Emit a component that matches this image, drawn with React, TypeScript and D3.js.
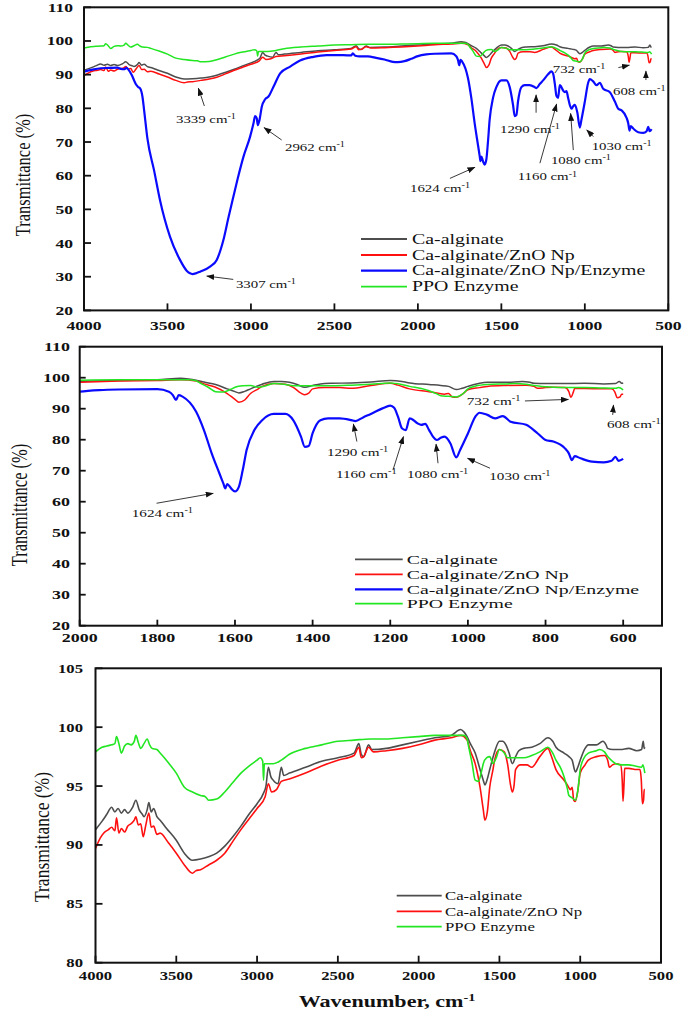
import React from 'react';
import * as d3 from 'd3';

type P = [number, number];

// ---------- DATA (wavenumber cm-1, transmittance %) ----------
const caAlginate: P[] = [
  [4000,91.3],[3960,92.0],[3930,92.6],[3900,93.2],[3880,92.8],[3860,93.1],[3840,92.7],[3820,93.0],[3800,92.7],[3770,93.2],[3750,93.8],[3730,93.0],[3710,92.6],[3700,92.4],[3680,93.0],[3670,93.6],[3655,92.8],[3640,93.1],[3620,92.4],[3600,92.1],[3560,91.4],[3500,90.4],[3450,89.3],[3400,88.7],[3350,88.8],[3300,89.0],[3250,89.3],[3200,89.9],[3150,90.7],[3100,91.6],[3050,92.6],[3000,93.5],[2960,94.4],[2945,95.0],[2930,96.6],[2915,95.8],[2900,95.5],[2870,95.2],[2850,96.6],[2835,95.9],[2800,96.1],[2700,96.6],[2600,97.1],[2500,97.4],[2400,97.8],[2370,98.6],[2355,97.7],[2340,97.5],[2310,98.5],[2290,98.1],[2200,98.2],[2100,98.5],[2000,98.8],[1900,99.1],[1800,99.3],[1740,99.8],[1720,99.6],[1700,99.2],[1680,98.6],[1650,97.8],[1620,96.4],[1600,95.5],[1590,95.1],[1575,95.6],[1560,96.4],[1530,97.9],[1500,98.8],[1480,98.8],[1460,98.5],[1440,97.8],[1420,96.9],[1400,97.5],[1380,98.0],[1350,98.2],[1300,98.3],[1250,98.6],[1200,99.1],[1170,98.8],[1150,98.3],[1100,97.8],[1070,97.5],[1050,97.2],[1030,96.2],[1015,96.6],[1000,97.2],[970,98.2],[950,98.5],[900,98.5],[860,98.8],[840,98.5],[830,98.2],[800,98.1],[750,98.1],[700,98.2],[650,98.0],[620,98.1],[610,98.8],[604,98.2],[600,98.3]
];

const caZnO: P[] = [
  [4000,89.7],[3970,90.6],[3950,91.0],[3920,91.3],[3900,91.5],[3880,91.2],[3870,92.3],[3855,91.0],[3840,91.4],[3820,91.1],[3800,91.6],[3780,91.8],[3760,92.1],[3750,92.4],[3735,91.7],[3720,91.8],[3705,90.7],[3690,91.6],[3670,92.7],[3655,91.5],[3640,91.6],[3620,90.9],[3600,91.0],[3550,90.2],[3500,89.3],[3450,88.3],[3400,87.6],[3380,87.8],[3350,87.9],[3300,88.3],[3250,88.7],[3200,89.3],[3150,90.3],[3100,91.3],[3050,92.2],[3000,93.1],[2950,94.1],[2930,95.2],[2910,94.5],[2880,94.7],[2850,95.4],[2800,95.6],[2700,96.1],[2600,96.7],[2500,97.2],[2400,97.6],[2370,98.3],[2355,97.4],[2340,97.5],[2310,98.3],[2280,97.9],[2200,98.0],[2100,98.2],[2000,98.5],[1900,98.9],[1800,99.1],[1740,99.3],[1700,98.9],[1680,98.0],[1650,96.9],[1620,94.9],[1600,93.0],[1590,92.1],[1575,92.8],[1560,94.9],[1540,96.4],[1530,97.2],[1500,98.1],[1470,97.9],[1450,96.9],[1430,95.0],[1420,94.5],[1410,95.0],[1400,96.4],[1370,96.8],[1330,96.8],[1300,96.6],[1250,97.5],[1200,98.2],[1180,97.6],[1150,96.4],[1100,95.5],[1080,95.1],[1060,94.7],[1050,94.9],[1040,93.8],[1030,93.7],[1015,94.6],[1000,96.1],[970,96.8],[950,97.2],[900,97.5],[850,97.6],[830,97.2],[820,96.6],[800,96.8],[780,96.9],[750,96.8],[740,95.5],[735,93.7],[728,95.5],[725,96.5],[700,96.5],[650,96.4],[630,96.4],[622,95.5],[615,93.5],[608,93.8],[604,94.7],[600,94.7]
];

const caZnOEnzyme: P[] = [
  [4000,90.9],[3950,91.5],[3900,91.9],[3850,92.0],[3800,92.1],[3780,91.7],[3760,91.6],[3745,92.0],[3734,91.5],[3714,89.9],[3700,88.3],[3690,87.2],[3675,86.3],[3664,85.9],[3650,83.5],[3640,79.5],[3620,71.0],[3580,61.5],[3545,52.8],[3485,41.9],[3425,35.0],[3385,31.8],[3365,31.0],[3350,30.8],[3330,31.0],[3305,31.5],[3245,33.0],[3205,35.0],[3165,40.9],[3135,47.5],[3105,53.8],[3075,60.0],[3045,65.6],[3005,71.6],[2985,75.5],[2975,77.7],[2965,77.0],[2959,75.0],[2949,76.5],[2935,80.5],[2915,82.7],[2895,83.5],[2865,86.4],[2825,90.4],[2765,92.4],[2706,94.2],[2626,95.3],[2546,95.8],[2446,95.8],[2400,95.7],[2390,96.3],[2375,95.6],[2350,95.4],[2300,95.4],[2250,95.0],[2200,94.5],[2150,93.8],[2120,93.7],[2080,94.0],[2040,94.7],[2000,95.5],[1950,96.0],[1900,96.2],[1800,96.3],[1770,95.5],[1760,94.4],[1752,92.8],[1745,94.4],[1735,93.9],[1700,89.0],[1680,83.1],[1660,75.6],[1640,69.1],[1630,65.9],[1625,64.3],[1620,65.7],[1610,64.3],[1600,63.3],[1590,64.8],[1580,70.2],[1570,76.7],[1550,83.1],[1530,86.3],[1500,88.3],[1470,88.3],[1450,86.3],[1430,81.0],[1420,77.7],[1410,78.0],[1400,82.1],[1380,86.3],[1360,86.9],[1330,86.9],[1300,86.3],[1290,86.0],[1270,87.2],[1250,88.3],[1220,90.1],[1200,91.0],[1190,90.3],[1180,87.4],[1170,83.7],[1160,83.1],[1150,86.9],[1145,86.7],[1130,85.3],[1120,84.8],[1110,85.1],[1100,83.1],[1090,81.0],[1080,79.9],[1070,80.6],[1060,81.0],[1045,78.8],[1030,74.3],[1020,76.7],[1000,82.0],[980,87.6],[970,88.7],[950,88.0],[930,86.9],[910,87.6],[890,85.8],[850,84.8],[820,82.0],[800,79.9],[780,79.4],[750,77.2],[740,75.6],[732,73.4],[725,74.7],[710,74.0],[680,72.9],[650,72.7],[630,73.2],[620,74.5],[612,73.2],[600,73.8]
];

const ppoEnzyme: P[] = [
  [4000,97.9],[3960,98.3],[3930,98.4],[3900,98.5],[3880,98.6],[3870,99.2],[3855,98.6],[3840,97.8],[3820,98.4],[3800,98.6],[3780,98.5],[3760,98.8],[3750,99.3],[3735,98.7],[3720,98.2],[3700,98.6],[3680,99.0],[3665,98.5],[3650,98.2],[3620,98.1],[3600,97.8],[3550,97.0],[3500,96.1],[3450,94.9],[3400,94.5],[3350,94.2],[3320,94.1],[3300,93.8],[3250,93.9],[3200,94.5],[3150,95.3],[3100,96.1],[3050,96.7],[3000,97.2],[2980,97.4],[2965,97.1],[2960,95.5],[2955,96.9],[2900,96.9],[2850,97.2],[2800,97.7],[2700,98.2],[2600,98.5],[2500,98.8],[2400,98.9],[2300,99.0],[2200,99.0],[2100,99.1],[2000,99.2],[1900,99.3],[1800,99.3],[1720,99.3],[1700,99.0],[1690,98.3],[1670,97.0],[1650,95.5],[1630,95.4],[1610,96.3],[1600,96.9],[1580,97.4],[1560,97.5],[1540,96.9],[1520,97.4],[1500,98.1],[1470,97.8],[1450,97.4],[1400,97.4],[1350,97.4],[1300,97.6],[1250,97.9],[1200,98.3],[1170,97.8],[1150,97.2],[1120,96.5],[1100,95.8],[1080,94.8],[1070,94.2],[1050,94.0],[1030,93.8],[1015,94.6],[1000,96.4],[980,97.3],[950,97.8],[900,98.0],[880,98.1],[850,97.9],[830,97.5],[800,97.1],[780,96.9],[740,96.8],[700,96.8],[660,96.7],[620,96.6],[612,96.8],[600,96.1]
];

const seriesNames = ['Ca-alginate', 'Ca-alginate/ZnO Np', 'Ca-alginate/ZnO Np/Enzyme', 'PPO Enzyme'];

const xTicksWide = [4000, 3500, 3000, 2500, 2000, 1500, 1000, 500];
const xTicksZoom = [2000, 1800, 1600, 1400, 1200, 1000, 800, 600];
const yTicksWide = [20, 30, 40, 50, 60, 70, 80, 90, 100, 110];
const yTicksTight = [80, 85, 90, 95, 100, 105];

type Note = { label: string; tw: number; tv: number; fw: number; fv: number; aw: number; av: number };
// label text left/center position and arrow (from -> to) in data units
const notesPanel1: Note[] = [
  { label: '3339', tw: 3449, tv: 76.7, fw: 3279, fv: 80.7, aw: 3315, av: 86.0 },
  { label: '2962', tw: 2796, tv: 68.6, fw: 2816, fv: 70.6, aw: 2922, av: 74.3 },
  { label: '3307', tw: 3090, tv: 27.8, fw: 3106, fv: 29.2, aw: 3265, av: 30.2 },
  { label: '732', tw: 1192, tv: 91.7, fw: 799, fv: 92.1, aw: 733, av: 92.8 },
  { label: '608', tw: 831, tv: 85.1, fw: 634, fv: 88.4, aw: 634, av: 91.1 },
  { label: '1290', tw: 1508, tv: 73.8, fw: 1292, fv: 78.7, aw: 1292, av: 84.0 },
  { label: '1624', tw: 2047, tv: 56.4, fw: 1808, fv: 59.2, aw: 1658, av: 62.5 },
  { label: '1160', tw: 1402, tv: 59.7, fw: 1269, fv: 63.7, aw: 1169, av: 81.3 },
  { label: '1080', tw: 1203, tv: 64.7, fw: 1069, fv: 67.6, aw: 1085, av: 78.5 },
  { label: '1030', tw: 959, tv: 68.9, fw: 949, fv: 71.6, aw: 989, av: 73.6 },
];
const notesPanel2: Note[] = [
  { label: '1624', tw: 1866, tv: 56.3, fw: 1802, fv: 59.5, aw: 1656, av: 62.7 },
  { label: '1290', tw: 1363, tv: 76.1, fw: 1286, fv: 79.4, aw: 1295, av: 85.1 },
  { label: '1160', tw: 1340, tv: 68.8, fw: 1193, fv: 70.2, aw: 1166, av: 81.0 },
  { label: '1080', tw: 1157, tv: 68.9, fw: 1077, fv: 72.4, aw: 1082, av: 78.6 },
  { label: '1030', tw: 945, tv: 68.1, fw: 943, fv: 70.8, aw: 1001, av: 74.0 },
  { label: '732', tw: 1003, tv: 92.5, fw: 853, fv: 92.5, aw: 741, av: 93.0 },
  { label: '608', tw: 642, tv: 85.0, fw: 627, fv: 88.0, aw: 625, av: 91.2 },
];

// ---------- STYLE ----------
const FONT = '"Liberation Serif", "Times New Roman", Times, serif';
const COLORS = ['#4d4d4d', '#ff1010', '#0a0aff', '#22e622'];

type Series = { data: P[]; color: string; width: number };

type PanelProps = {
  id: string;
  left: number; right: number; top: number; bottom: number;
  xDomain: [number, number]; yDomain: [number, number];
  xTicks: number[]; yTicks: number[];
  series: Series[];
  sx: number;
  tickLen: number;
  yLabelRight: number;
  xLabelY: number;
  yTitle: { cx: number; cy: number; size: number };
  legend: { x0: number; x1: number; tx: number; rows: number[]; size: number; sx: number; items: number[] };
  notes: Note[];
};

function SText(props: { x: number; y: number; sx: number; size: number; weight?: string; anchor?: string; children: React.ReactNode }) {
  const { x, y, sx, size, weight, anchor, children } = props;
  return (
    <text
      transform={`translate(${x},${y}) scale(${sx},1)`}
      fontFamily={FONT}
      fontSize={size}
      fontWeight={weight || 'normal'}
      textAnchor={anchor || 'start'}
      fill="#111"
    >
      {children}
    </text>
  );
}

function Panel(p: PanelProps) {
  const x = d3.scaleLinear().domain(p.xDomain).range([p.left, p.right]);
  const y = d3.scaleLinear().domain(p.yDomain).range([p.bottom, p.top]);
  const line = d3
    .line<P>()
    .x((d) => x(d[0]))
    .y((d) => y(d[1]))
    .curve(d3.curveMonotoneX);
  const clipId = `clip-${p.id}`;
  return (
    <g>
      <defs>
        <clipPath id={clipId}>
          <rect x={p.left} y={p.top} width={p.right - p.left} height={p.bottom - p.top} />
        </clipPath>
      </defs>
      <g clipPath={`url(#${clipId})`}>
        {p.series.map((s, i) => (
          <path key={i} d={line(s.data) || ''} fill="none" stroke={s.color} strokeWidth={s.width} strokeLinejoin="round" />
        ))}
      </g>
      {/* frame */}
      <rect x={p.left} y={p.top} width={p.right - p.left} height={p.bottom - p.top} fill="none" stroke="#111" strokeWidth={2} />
      {/* x ticks */}
      {p.xTicks.map((t) => (
        <g key={`xt${t}`}>
          <line x1={x(t)} x2={x(t)} y1={p.bottom} y2={p.bottom - p.tickLen} stroke="#111" strokeWidth={1.8} />
          <SText x={x(t)} y={p.xLabelY} sx={p.sx} size={13} weight="bold" anchor="middle">{t}</SText>
        </g>
      ))}
      {/* y ticks */}
      {p.yTicks.map((t) => (
        <g key={`yt${t}`}>
          <line x1={p.left} x2={p.left + p.tickLen} y1={y(t)} y2={y(t)} stroke="#111" strokeWidth={1.8} />
          <SText x={p.yLabelRight} y={y(t) + 4.5} sx={p.sx} size={13} weight="bold" anchor="end">{t}</SText>
        </g>
      ))}
      {/* y title */}
      <text
        transform={`translate(${p.yTitle.cx},${p.yTitle.cy}) rotate(-90) scale(1,${p.sx * 0.97})`}
        fontFamily={FONT}
        fontSize={p.yTitle.size}
        textAnchor="middle"
        dominantBaseline="central"
        fill="#111"
      >
        Transmittance (%)
      </text>
      {/* annotations */}
      {p.notes.map((n, i) => (
        <g key={`n${i}`}>
          <line
            x1={x(n.fw)} y1={y(n.fv)} x2={x(n.aw)} y2={y(n.av)}
            stroke="#222" strokeWidth={0.9} markerEnd="url(#arrowHead)"
          />
          <SText x={x(n.tw)} y={y(n.tv) + 3.8} sx={p.sx} size={11}>
            {n.label} cm<tspan fontSize={7.5} dy={-4}>-1</tspan>
          </SText>
        </g>
      ))}
      {/* legend */}
      {p.legend.items.map((si, i) => (
        <g key={`lg${i}`}>
          <line x1={p.legend.x0} x2={p.legend.x1} y1={p.legend.rows[i]} y2={p.legend.rows[i]} stroke={COLORS[si]} strokeWidth={si === 2 ? 2.2 : 1.8} />
          <SText x={p.legend.tx} y={p.legend.rows[i] + p.legend.size * 0.33} sx={p.legend.sx} size={p.legend.size}>
            {seriesNames[si]}
          </SText>
        </g>
      ))}
    </g>
  );
}

export default function App() {
  const all: Series[] = [
    { data: caAlginate, color: COLORS[0], width: 1.5 },
    { data: caZnO, color: COLORS[1], width: 1.5 },
    { data: ppoEnzyme, color: COLORS[3], width: 1.5 },
    { data: caZnOEnzyme, color: COLORS[2], width: 2.2 },
  ];
  const three: Series[] = [
    { data: caAlginate, color: COLORS[0], width: 1.6 },
    { data: caZnO, color: COLORS[1], width: 1.6 },
    { data: ppoEnzyme, color: COLORS[3], width: 1.6 },
  ];
  return (
    <svg
      width={685}
      height={1012}
      viewBox="0 0 685 1012"
      style={{ position: 'absolute', left: 0, top: 0, background: '#fff' }}
    >
      <defs>
        <marker id="arrowHead" markerUnits="userSpaceOnUse" markerWidth={8} markerHeight={6} refX={7.5} refY={3} orient="auto">
          <path d="M0,0 L8,3 L0,6 Z" fill="#111" />
        </marker>
      </defs>
      <rect x={0} y={0} width={685} height={1012} fill="#fff" />
      <Panel
        id="p1"
        left={84} right={668.3} top={7.3} bottom={310.4}
        xDomain={[4000, 500]} yDomain={[20, 110]}
        xTicks={xTicksWide} yTicks={yTicksWide}
        series={all}
        sx={1.35}
        tickLen={7}
        yLabelRight={73}
        xLabelY={329.5}
        yTitle={{ cx: 23, cy: 175, size: 16.5 }}
        legend={{ x0: 361, x1: 407, tx: 412, rows: [239, 255, 270.7, 286.7], size: 14.2, sx: 1.4, items: [0, 1, 2, 3] }}
        notes={notesPanel1}
      />
      <Panel
        id="p2"
        left={79.7} right={662} top={346.7} bottom={625.7}
        xDomain={[2000, 500]} yDomain={[20, 110]}
        xTicks={xTicksZoom} yTicks={yTicksWide}
        series={all}
        sx={1.38}
        tickLen={6}
        yLabelRight={70}
        xLabelY={641.5}
        yTitle={{ cx: 20, cy: 505, size: 16.5 }}
        legend={{ x0: 355, x1: 402.7, tx: 406.7, rows: [559.3, 574.3, 589.3, 603.7], size: 13.2, sx: 1.5, items: [0, 1, 2, 3] }}
        notes={notesPanel2}
      />
      <Panel
        id="p3"
        left={95.5} right={661} top={668.3} bottom={962.7}
        xDomain={[4000, 500]} yDomain={[80, 105]}
        xTicks={xTicksWide} yTicks={yTicksTight}
        series={three}
        sx={1.28}
        tickLen={7}
        yLabelRight={83}
        xLabelY={979.5}
        yTitle={{ cx: 41, cy: 837, size: 17.5 }}
        legend={{ x0: 396.7, x1: 441.7, tx: 445, rows: [895.7, 911.3, 926.7], size: 13.2, sx: 1.27, items: [0, 1, 3] }}
        notes={[]}
      />
      <SText x={387} y={1007} sx={1.3} size={17} weight="bold" anchor="middle">
        Wavenumber, cm<tspan fontSize={11} dy={-6}>-1</tspan>
      </SText>
    </svg>
  );
}
